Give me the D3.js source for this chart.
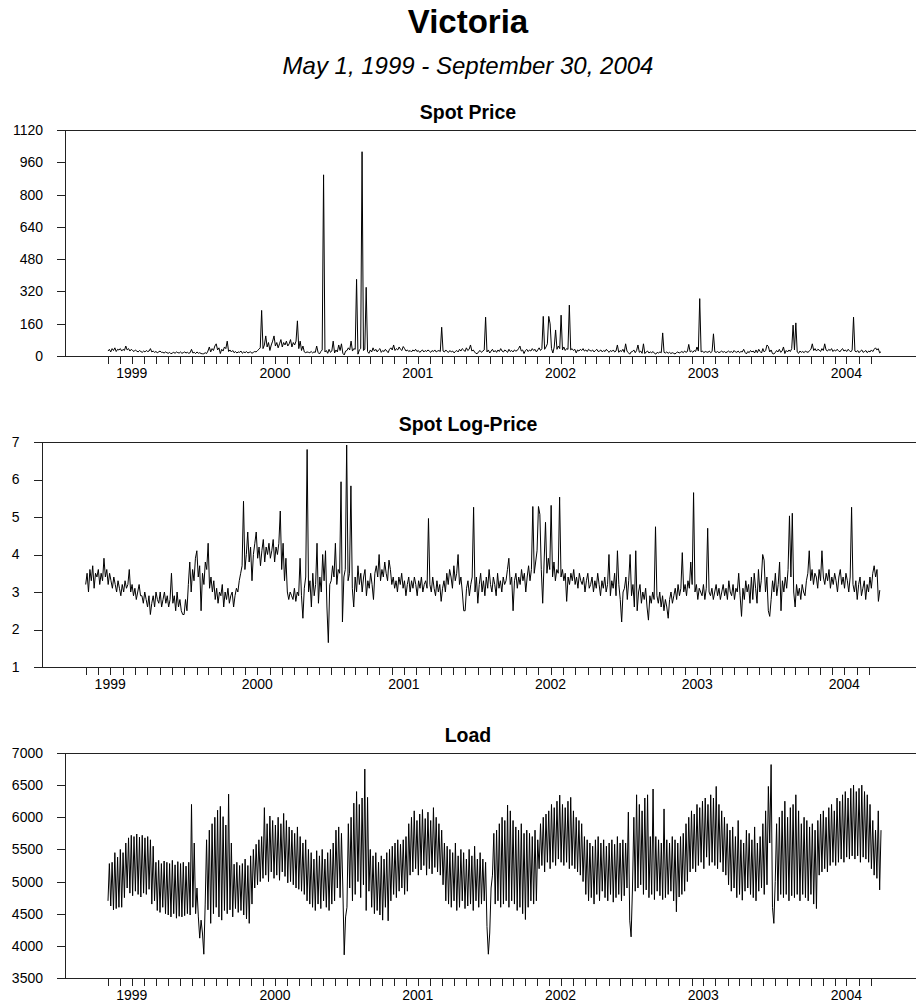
<!DOCTYPE html>
<html>
<head>
<meta charset="utf-8">
<script src="https://cdn.jsdelivr.net/npm/d3@7/dist/d3.min.js"></script>
<style>
  body { margin: 0; background: #fff; }
  svg { display: block; }
</style>
</head>
<body>
<svg id="chart" width="916" height="1005"></svg>
<script>
// ─── data: spot log-price, roughly two readings per week ─────────
const lp1999 = [
  3.2,3.5,3.0,3.6,3.3,3.7,3.1,3.5,3.4,3.6, 3.2,3.5,3.3,3.9,3.4,3.6,3.2,3.5,3.3,3.1,
  3.4,3.2,3.0,3.3,3.1,2.9,3.2,3.0,3.3,3.1, 3.2,3.6,3.0,3.2,2.9,3.1,2.8,3.0,3.2,2.9,
  2.9,2.7,3.0,2.8,2.6,2.9,2.4,2.7,2.9,2.6, 3.0,2.8,2.7,3.0,2.6,2.8,3.0,2.7,2.9,2.6,
  2.8,3.5,2.7,2.9,2.5,3.0,2.6,2.8,2.5,2.4
];
const lp2000 = [
  2.4,2.8,2.5,3.2,3.8,3.0,3.6,3.3,3.9,4.1, 3.4,3.7,2.5,3.5,3.2,3.8,3.6,4.3,3.1,3.4,
  3.0,3.3,2.8,3.1,2.7,3.0,2.9,3.2,2.6,3.0, 2.8,3.1,2.7,2.9,3.0,2.6,2.9,3.1,3.0,3.3,
  3.5,3.7,5.42,3.6,4.0,4.6,3.8,4.2,3.3,4.0, 4.3,4.6,3.9,4.2,3.7,4.1,4.4,3.8,4.2,4.0,
  4.3,3.9,4.1,4.4,3.8,4.2,4.0,4.3,5.16,3.6, 4.3,3.3,3.9,3.0,2.8,3.0,2.9,2.8,3.1,2.75,
  3.0,2.9,3.9,2.9,2.3,3.1,3.4,6.8,3.0,3.3, 2.6,3.5,2.9,3.2,4.3,2.7,3.4,3.0,4.0,3.3,
  4.1,2.6,1.65,3.2
];
const lp2001 = [
  3.3,3.7,3.4,4.3,3.2,3.6,3.5,5.94,2.2,3.4, 3.6,6.92,3.3,3.5,5.83,3.1,2.6,3.4,3.0,3.7,
  3.2,3.5,3.0,3.4,3.6,2.9,3.3,3.1,3.5,3.2, 2.8,3.5,3.7,3.4,4.0,3.3,3.6,3.4,3.8,3.5,
  3.3,3.85,3.6,3.2,3.4,3.1,3.3,3.0,3.4,3.2, 3.5,3.1,3.3,2.9,3.2,3.4,3.0,3.3,3.1,3.4,
  3.2,2.9,3.3,3.1,3.4,3.0,3.2,3.3,3.1,4.96, 3.2,3.0,3.4,3.1,2.9,3.3,3.0,3.2,2.75,3.1,
  3.3,3.0,3.5,3.2,3.6,3.4,3.1,3.7,3.3,3.5, 4.0,3.2,3.4,3.0,2.5,2.5,3.1,3.3,2.9,3.2,
  3.4,5.26,3.0,3.4
];
const lp2002 = [
  2.7,3.2,3.5,3.0,3.3,2.9,3.4,3.1,3.6,3.2, 3.0,3.4,3.2,2.9,3.5,3.1,3.3,3.0,3.4,3.2,
  3.3,3.6,3.9,3.2,3.4,2.5,3.3,3.5,3.1,3.4, 3.2,3.6,3.3,3.5,3.0,3.4,3.7,3.3,3.6,5.28,
  3.5,3.8,4.1,5.28,5.07,3.6,2.7,3.8,4.86,3.5, 3.9,3.6,5.31,3.4,3.8,3.3,3.6,3.5,5.53,3.4,
  3.6,3.3,3.5,2.75,3.4,3.2,3.5,3.3,3.6,3.2, 3.4,3.1,3.5,3.3,3.2,3.4,3.0,3.3,3.5,3.1,
  3.2,3.4,3.0,3.3,3.1,3.5,3.2,2.9,3.3,3.1, 3.4,3.0,3.2,4.0,2.9,3.3,3.1,3.5,2.9,4.1,
  3.2,2.8,2.2,3.0
];
const lp2003 = [
  3.1,3.4,2.8,3.3,4.0,2.9,3.2,2.6,4.1,2.5, 3.0,3.2,2.7,3.0,2.8,3.1,2.6,2.25,2.9,2.7,
  3.0,2.8,4.74,2.9,2.7,3.0,2.6,2.9,2.5,2.8, 2.6,2.3,2.8,3.0,2.7,2.9,3.1,2.8,3.2,2.9,
  3.1,4.05,3.0,3.2,2.9,3.3,3.1,3.8,3.2,5.65, 3.0,3.2,2.8,3.1,3.0,2.9,3.2,2.8,3.1,4.7,
  3.0,2.9,3.1,2.8,3.0,3.2,2.9,3.1,2.8,3.0, 3.2,2.9,3.1,2.8,3.3,3.0,2.9,3.2,2.8,3.1,
  3.0,3.5,2.9,2.35,3.1,2.8,3.3,3.0,3.2,2.7, 3.4,2.8,3.5,3.1,2.7,3.6,3.0,3.3,4.0,3.85,
  3.0,3.4,2.5,2.35
];
const lp2004 = [
  2.8,3.3,3.0,3.5,2.9,3.2,3.8,2.5,3.3,3.0, 3.4,3.1,3.6,5.03,3.4,5.1,3.0,2.6,3.2,2.9,
  3.1,2.8,3.2,3.0,2.9,3.3,3.5,4.1,3.3,3.6, 3.2,3.5,3.4,3.1,3.6,3.3,4.1,3.4,3.2,3.5,
  3.3,3.6,3.1,3.4,3.2,3.5,3.3,3.0,3.4,3.6, 3.2,3.4,3.1,3.5,3.3,3.0,3.4,5.26,3.2,3.0,
  3.3,2.8,3.2,3.4,2.9,3.1,3.3,2.8,3.2,3.0, 3.4,3.1,3.5,3.7,3.4,3.6,2.75,3.05
];

// ─── data: load (MW), weekday highs / weekend lows ───────────────
const load1999 = [
  4700,5280,4620,5300,4560,5450,4580,5380,4600,5500,4600,5450,4750,5600,
  4900,5680,4820,5720,4780,5700,4850,5740,4800,5690,4760,5720,4820,5680,
  4800,5700,4880,5650,4650,5550,4700,5300,4550,5330,4520,5280,4600,5320,
  4500,5300,4480,5280,4450,5330,4500,5260,4430,5310,4460,5280,4450,5300,
  4470,5240,4500,5300,4480,6200,4600,5600,4500,4900,4450,4120,4400,4200
];
const load2000 = [
  3870,4650,5650,4560,5800,4350,5900,4500,6000,4600,6110,4450,6170,4400,
  6010,4550,5880,4500,6360,4560,5600,4450,5270,4580,5300,4520,5250,4550,
  5280,4480,5350,4420,5250,4350,5400,4650,5500,4900,5580,4950,5650,5000,
  5700,5050,6150,5100,5900,5000,6020,5150,5950,5050,5880,5100,6000,5020,
  5900,5150,6060,5080,5950,4980,5850,5000,5800,4950,5750,4900,5850,4880,
  5700,4850,5600,4800,5650,4700,5500,4650,5450,4600,5350,4550,5480,4650,
  5400,4580,5500,4700,5350,4600,5450,4550,5500,4650,5600,4700,5800,4900,
  5850,4750,5750,4900,3860,4450
];
const load2001 = [
  4600,5900,4900,6000,4700,6220,4800,6400,5000,6200,4750,6300,4950,6750,
  4550,6310,4850,5500,4600,5400,4500,5450,4550,5300,4480,5400,4400,5350,
  4600,5450,4390,5500,4700,5550,4800,5600,4750,5650,4850,5580,4900,5650,
  4800,5700,4850,5900,5100,6000,5150,6100,5200,5950,5100,6050,5180,6120,
  5250,5980,5100,6080,5200,5950,5120,6150,5220,6000,5150,5900,5100,5800,
  4950,5600,4700,5550,4650,5500,4600,5450,4700,5600,4550,5400,4600,5500,
  4700,5450,4580,5350,4620,5500,4650,5400,4550,5550,4700,5350,4600,5450,
  4650,5350,4700,5300,4300,3870
];
const load2002 = [
  4200,4900,5100,5750,4650,5800,4700,5900,4600,6000,4650,5950,4700,6190,
  4600,6100,4700,5950,4650,5850,4550,5800,4600,5900,4500,5750,4410,5800,
  4600,5750,4700,5700,4650,5800,4700,5650,5200,5900,5250,6000,5150,6050,
  5300,6100,5200,6200,5300,6150,5250,6250,5350,6345,5300,6200,5250,6150,
  5300,6250,5200,6310,5250,6100,5200,6000,5150,5950,5100,5900,5000,5700,
  4800,5650,4700,5600,4750,5550,4650,5650,4800,5700,4700,5600,4850,5650,
  4750,5550,4700,5600,4800,5650,4680,5580,4750,5700,4800,5600,4700,5650,
  4780,5600,4900,6080,4400,4140
];
const load2003 = [
  4900,6000,4850,6350,4900,6200,4950,6100,4800,6300,4870,6350,4750,5700,
  4800,6440,4720,5700,4850,5650,4780,5600,4720,6130,4750,5650,4800,5600,
  4850,5700,4700,5650,4530,5600,4760,5700,4800,5750,4850,5900,5000,6000,
  5150,6100,5200,6050,5150,6200,5250,6150,5300,6250,5200,6300,5380,6200,
  5250,6350,5300,6300,5250,6480,5200,6200,5300,6100,5150,6000,5100,5900,
  4950,5800,4850,5850,4900,5700,4750,5950,4800,5650,4710,5600,4850,5800,
  4900,5750,4800,5650,4750,5850,4700,5600,4850,5700,4900,5900,4800,6100,
  4950,6480,5600,6820,4600,4350
];
const load2004 = [
  5000,5900,4700,6000,4800,6100,4750,6250,4800,6000,4700,6150,4780,6200,
  4750,6350,4800,6100,4700,5900,4800,6000,4750,5950,4700,5850,4800,5900,
  4650,5800,4580,5950,5100,6050,5150,6100,5200,6000,5150,6150,5250,6200,
  5300,6100,5250,6300,5300,6250,5350,6350,5300,6400,5380,6300,5350,6450,
  5400,6500,5350,6400,5400,6450,5300,6500,5380,6400,5350,6350,5300,6200,
  5200,5950,5100,5800,5050,6100,4870,5800
];

// each year's readings are spread evenly over the days they cover
const periods = [
  { from: "1999-05-01", to: "2000-01-01", lp: lp1999, load: load1999 },
  { from: "2000-01-01", to: "2001-01-01", lp: lp2000, load: load2000 },
  { from: "2001-01-01", to: "2002-01-01", lp: lp2001, load: load2001 },
  { from: "2002-01-01", to: "2003-01-01", lp: lp2002, load: load2002 },
  { from: "2003-01-01", to: "2004-01-01", lp: lp2003, load: load2003 },
  { from: "2004-01-01", to: "2004-10-01", lp: lp2004, load: load2004 }
];

// ─── tick values ─────────────────────────────────────────────────
const priceTicks = [0, 160, 320, 480, 640, 800, 960, 1120];
const logTicks   = [1, 2, 3, 4, 5, 6, 7];
const loadTicks  = [3500, 4000, 4500, 5000, 5500, 6000, 6500, 7000];
const yearLabels = ["1999", "2000", "2001", "2002", "2003", "2004"];

// ─── build rows ──────────────────────────────────────────────────
const rows = [];
periods.forEach(p => {
    const a = new Date(p.from + "T00:00:00Z");
    const b = new Date(p.to + "T00:00:00Z");
    const step = (b - a) / p.lp.length;
    p.lp.forEach((v, i) => {
        rows.push({
            date: new Date(+a + i * step),
            logPrice: v,
            price: Math.exp(v),          // spot price is the log-price exponentiated
            load: p.load[i]
        });
    });
});

const startDate = new Date("1999-05-01T00:00:00Z");
const endDate   = new Date("2004-09-30T00:00:00Z");
const monthTicks = d3.utcMonth.range(startDate, new Date("2004-10-01T00:00:00Z"));

const font = "'Liberation Sans', Arial, Helvetica, sans-serif";
const svg = d3.select("#chart");
const R = 925;

// ─── titles ──────────────────────────────────────────────────────
svg.append("text")
    .attr("x", 468).attr("y", 33)
    .attr("text-anchor", "middle")
    .style("font-family", font)
    .style("font-size", "33px")
    .style("font-weight", "bold")
    .text("Victoria");

svg.append("text")
    .attr("x", 468).attr("y", 74)
    .attr("text-anchor", "middle")
    .style("font-family", font)
    .style("font-size", "24px")
    .style("font-style", "italic")
    .text("May 1, 1999 - September 30, 2004");

// ─── panels ──────────────────────────────────────────────────────
const panels = [
    { title: "Spot Price",     key: "price",    L: 65,   top: 130, bottom: 356, domain: [0, 1120],    ticks: priceTicks },
    { title: "Spot Log-Price", key: "logPrice", L: 41.5, top: 442, bottom: 667, domain: [1, 7],       ticks: logTicks },
    { title: "Load",           key: "load",     L: 65,   top: 753, bottom: 978, domain: [3500, 7000], ticks: loadTicks }
];

panels.forEach(p => {
    const pad = 0.05 * (R - p.L);
    const x = d3.scaleUtc().domain([startDate, endDate]).range([p.L + pad, R - pad]);
    const y = d3.scaleLinear().domain(p.domain).range([p.bottom, p.top]);

    const g = svg.append("g");

    // panel title
    g.append("text")
        .attr("x", 468).attr("y", p.top - 11)
        .attr("text-anchor", "middle")
        .style("font-family", font)
        .style("font-size", "19.5px")
        .style("font-weight", "bold")
        .text(p.title);

    // frame: top and bottom run off the right edge
    g.append("line")
        .attr("x1", p.L).attr("x2", R).attr("y1", p.top).attr("y2", p.top)
        .attr("stroke", "#222").attr("shape-rendering", "crispEdges");
    g.append("line")
        .attr("x1", p.L).attr("x2", R).attr("y1", p.bottom).attr("y2", p.bottom)
        .attr("stroke", "#222").attr("shape-rendering", "crispEdges");

    // y axis
    const yAxis = g.append("g")
        .attr("transform", `translate(${p.L},0)`)
        .call(d3.axisLeft(y).tickValues(p.ticks).tickSize(8).tickSizeOuter(0).tickPadding(14).tickFormat(d3.format("d")));
    yAxis.select(".domain").attr("stroke", "#222").attr("shape-rendering", "crispEdges");
    yAxis.selectAll(".tick line").attr("stroke", "#222").attr("shape-rendering", "crispEdges");
    yAxis.selectAll("text")
        .attr("fill", "#000")
        .style("font-family", font)
        .style("font-size", "14px");

    // x axis: monthly ticks, year labels at mid-year
    const xAxis = g.append("g")
        .attr("transform", `translate(0,${p.bottom})`)
        .call(d3.axisBottom(x).tickValues(monthTicks).tickSize(8).tickSizeOuter(0).tickFormat(""));
    xAxis.select(".domain").remove();
    xAxis.selectAll(".tick line").attr("stroke", "#222").attr("shape-rendering", "crispEdges");

    g.selectAll("text.year")
        .data(yearLabels)
        .join("text")
        .attr("class", "year")
        .attr("x", d => x(new Date(d + "-07-01T00:00:00Z")))
        .attr("y", p.bottom + 22)
        .attr("text-anchor", "middle")
        .style("font-family", font)
        .style("font-size", "14px")
        .text(d => d);

    // the series
    const line = d3.line()
        .x(d => x(d.date))
        .y(d => y(d[p.key]));

    g.append("path")
        .datum(rows)
        .attr("d", line)
        .attr("fill", "none")
        .attr("stroke", "#000")
        .attr("stroke-width", 1);
});
</script>
</body>
</html>
